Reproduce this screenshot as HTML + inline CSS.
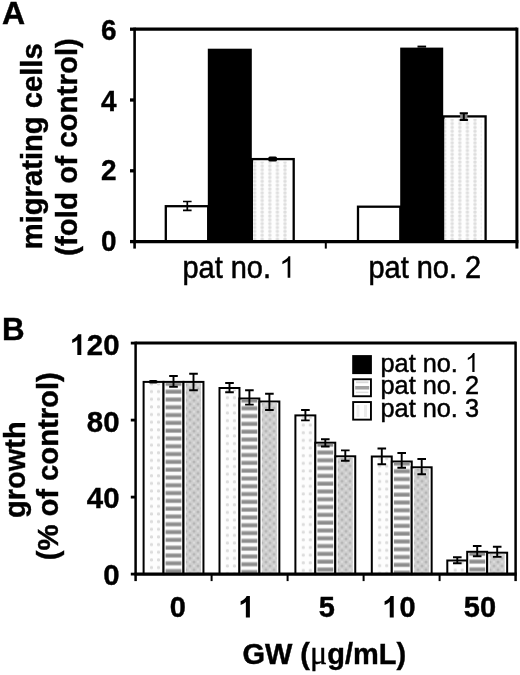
<!DOCTYPE html>
<html><head><meta charset="utf-8"><title>Figure</title>
<style>
html,body{margin:0;padding:0;background:#fff;}
body{width:520px;height:675px;overflow:hidden;font-family:"Liberation Sans",sans-serif;}
svg{display:block;filter:blur(0.4px);}
text{font-family:"Liberation Sans",sans-serif;fill:#000;stroke:#000;stroke-width:0.3px;}
.b{font-weight:bold;font-size:29px;stroke-width:0.4px;}
.r{font-size:29px;stroke-width:0.55px;}
.lg{font-size:25px;stroke-width:0.5px;}
</style></head><body>
<svg width="520" height="675" viewBox="0 0 520 675">
<defs>
<pattern id="pA" patternUnits="userSpaceOnUse" x="250.8" y="160" width="7.6" height="3.85">
<rect width="7.5" height="3.85" fill="#fefefe"/>
<rect x="2.2" y="0.4" width="3.2" height="3.1" rx="1.2" fill="#dedede"/>
</pattern>
<pattern id="p1" patternUnits="userSpaceOnUse" x="147.8" y="386.4" width="7.0" height="7.65">
<rect width="7.0" height="7.7" fill="#fdfdfd"/>
<rect x="2.0" y="4.0" width="3.0" height="3.2" rx="1.3" fill="#dddddd"/>
</pattern>
<pattern id="p1_0" patternUnits="userSpaceOnUse" x="148.00" y="378.30" width="7.0" height="7.65"><rect width="7" height="7.7" fill="#fdfdfd"/><rect x="2.0" y="4.0" width="3.0" height="3.2" rx="1.3" fill="#dcdcdc"/></pattern>
<pattern id="p2_0" patternUnits="userSpaceOnUse" x="0" y="381.30" width="20" height="7.8"><rect width="20" height="7.8" fill="#fcfcfc"/><rect y="0.3" width="20" height="4.6" fill="#b4b4b4"/><rect y="1.3" width="20" height="2.6" fill="#8c8c8c"/></pattern>
<pattern id="p1_1" patternUnits="userSpaceOnUse" x="223.90" y="384.40" width="7.0" height="7.65"><rect width="7" height="7.7" fill="#fdfdfd"/><rect x="2.0" y="4.0" width="3.0" height="3.2" rx="1.3" fill="#dcdcdc"/></pattern>
<pattern id="p2_1" patternUnits="userSpaceOnUse" x="0" y="397.90" width="20" height="7.8"><rect width="20" height="7.8" fill="#fcfcfc"/><rect y="0.3" width="20" height="4.6" fill="#b4b4b4"/><rect y="1.3" width="20" height="2.6" fill="#8c8c8c"/></pattern>
<pattern id="p1_2" patternUnits="userSpaceOnUse" x="299.80" y="411.80" width="7.0" height="7.65"><rect width="7" height="7.7" fill="#fdfdfd"/><rect x="2.0" y="4.0" width="3.0" height="3.2" rx="1.3" fill="#dcdcdc"/></pattern>
<pattern id="p2_2" patternUnits="userSpaceOnUse" x="0" y="442.10" width="20" height="7.8"><rect width="20" height="7.8" fill="#fcfcfc"/><rect y="0.3" width="20" height="4.6" fill="#b4b4b4"/><rect y="1.3" width="20" height="2.6" fill="#8c8c8c"/></pattern>
<pattern id="p1_3" patternUnits="userSpaceOnUse" x="376.20" y="452.90" width="7.0" height="7.65"><rect width="7" height="7.7" fill="#fdfdfd"/><rect x="2.0" y="4.0" width="3.0" height="3.2" rx="1.3" fill="#dcdcdc"/></pattern>
<pattern id="p2_3" patternUnits="userSpaceOnUse" x="0" y="460.90" width="20" height="7.8"><rect width="20" height="7.8" fill="#fcfcfc"/><rect y="0.3" width="20" height="4.6" fill="#b4b4b4"/><rect y="1.3" width="20" height="2.6" fill="#8c8c8c"/></pattern>
<pattern id="p1_4" patternUnits="userSpaceOnUse" x="451.70" y="556.90" width="7.0" height="7.65"><rect width="7" height="7.7" fill="#fdfdfd"/><rect x="2.0" y="4.0" width="3.0" height="3.2" rx="1.3" fill="#dcdcdc"/></pattern>
<pattern id="p2_4" patternUnits="userSpaceOnUse" x="0" y="551.20" width="20" height="7.8"><rect width="20" height="7.8" fill="#fcfcfc"/><rect y="0.3" width="20" height="4.6" fill="#b4b4b4"/><rect y="1.3" width="20" height="2.6" fill="#8c8c8c"/></pattern>
<pattern id="p3" patternUnits="userSpaceOnUse" x="184" y="383" width="8" height="7.7">
<rect width="8" height="7.7" fill="#cfcfcf"/>
<circle cx="2" cy="1.9" r="1.5" fill="#b6b6b6"/>
<circle cx="6" cy="5.75" r="1.5" fill="#b6b6b6"/>
<circle cx="6" cy="1.9" r="1.1" fill="#dcdcdc"/>
<circle cx="2" cy="5.75" r="1.1" fill="#dcdcdc"/>
</pattern>
</defs>
<rect width="520" height="675" fill="#fff"/>

<g id="panelA">
<rect x="165.8" y="206.2" width="42.4" height="35.4" fill="#fff" stroke="#000" stroke-width="2.3"/>
<rect x="252" y="159.1" width="41.7" height="82.5" fill="#fff" stroke="#000" stroke-width="2.3"/>
<rect x="253.0" y="161.6" width="36.7" height="80.0" fill="url(#pA)"/>
<rect x="358" y="206.7" width="42.3" height="34.9" fill="#fff" stroke="#000" stroke-width="2.3"/>
<rect x="443.4" y="116.4" width="42.2" height="125.2" fill="#fff" stroke="#000" stroke-width="2.3"/>
<rect x="444.4" y="118.9" width="37.2" height="122.7" fill="url(#pA)"/>
<rect x="207.8" y="48.7" width="44.0" height="192.9" fill="#000"/>
<rect x="400.2" y="47.6" width="43.0" height="194.0" fill="#000"/>
<path d="M183.0 201.5H191.6M183.0 210.3H191.6M187.3 201.5V210.3" stroke="#000" stroke-width="1.7" fill="none" stroke-linecap="butt"/>
<rect x="268.3" y="156.4" width="8.7" height="5.2" rx="1.5" fill="#000"/>
<rect x="417.5" y="45.6" width="8.6" height="2" fill="#000"/>
<rect x="460.2" y="113" width="7.2" height="7" fill="#8a8a8a"/>
<path d="M459.7 113.3H467.9M459.7 119.9H467.9M463.8 113.3V119.9" stroke="#000" stroke-width="2.0" fill="none" stroke-linecap="butt"/>
<path d="M134.6 29.2H516.9" stroke="#000" stroke-width="3.3" fill="none"/>
<path d="M133.4 241.6H518.4" stroke="#000" stroke-width="3.3" fill="none"/>
<path d="M134.6 27.599999999999998V248.6" stroke="#000" stroke-width="2.6" fill="none"/>
<path d="M516.9 27.599999999999998V248.6" stroke="#000" stroke-width="3" fill="none"/>
<path d="M130.0 241.6H134.6" stroke="#000" stroke-width="3.3" fill="none"/>
<path d="M130.0 170.8H134.6" stroke="#000" stroke-width="3.3" fill="none"/>
<path d="M130.0 100.0H134.6" stroke="#000" stroke-width="3.3" fill="none"/>
<path d="M130.0 29.2H134.6" stroke="#000" stroke-width="3.3" fill="none"/>
<path d="M325.8 241.6V248.6" stroke="#000" stroke-width="2" fill="none"/>
<text class="b" transform="translate(116.6,250.5) scale(0.92,1)" style="font-size:30.4px" text-anchor="end">0</text>
<text class="b" transform="translate(116.6,180.0) scale(0.92,1)" style="font-size:30.4px" text-anchor="end">2</text>
<text class="b" transform="translate(116.6,111.2) scale(0.92,1)" style="font-size:30.4px" text-anchor="end">4</text>
<text class="b" transform="translate(116.6,39.5) scale(0.92,1)" style="font-size:30.4px" text-anchor="end">6</text>
<text class="r" transform="translate(182.4,277.8) scale(0.935,1)" style="font-size:31px">pat no.</text>
<path transform="translate(279.1,277.7) scale(0.03,-0.0298)" d="M373 0H285V561Q253 531 202 501Q150 470 109 455V540Q183 575 238 624Q293 674 316 721H373Z" fill="#000"/>
<text class="r" transform="translate(368.4,277.8) scale(0.935,1)" style="font-size:31px">pat no. 2</text>
<text class="b" x="2.1" y="24.3" style="font-size:32px">A</text>
<text class="b" transform="translate(41.5,146.3) rotate(-90) scale(1,1.03)" text-anchor="middle" style="font-size:29.2px">migrating cells</text>
<text class="b" transform="translate(76.7,147) rotate(-90) scale(1,1.03)" text-anchor="middle" style="font-size:29.5px">(fold of control)</text>
</g>
<g id="panelB">
<rect x="143.6" y="381.9" width="19.95" height="192.2" fill="#fff" stroke="#000" stroke-width="2"/>
<rect x="148.6" y="383.4" width="12.6" height="190.7" fill="url(#p1_0)"/>
<rect x="163.5" y="381.9" width="19.95" height="192.2" fill="#fff" stroke="#000" stroke-width="2"/>
<rect x="165.6" y="383.1" width="15.8" height="191.0" fill="url(#p2_0)"/>
<rect x="183.5" y="381.9" width="19.95" height="192.2" fill="#fff" stroke="#000" stroke-width="2"/>
<rect x="185.9" y="383.1" width="15.1" height="191.0" fill="url(#p3)"/>
<rect x="219.5" y="388.0" width="19.95" height="186.1" fill="#fff" stroke="#000" stroke-width="2"/>
<rect x="224.5" y="389.5" width="12.6" height="184.6" fill="url(#p1_1)"/>
<rect x="239.4" y="398.5" width="19.95" height="175.6" fill="#fff" stroke="#000" stroke-width="2"/>
<rect x="241.5" y="399.7" width="15.8" height="174.4" fill="url(#p2_1)"/>
<rect x="259.4" y="401.5" width="19.95" height="172.6" fill="#fff" stroke="#000" stroke-width="2"/>
<rect x="261.8" y="402.7" width="15.1" height="171.4" fill="url(#p3)"/>
<rect x="295.4" y="415.4" width="19.95" height="158.7" fill="#fff" stroke="#000" stroke-width="2"/>
<rect x="300.4" y="416.9" width="12.6" height="157.2" fill="url(#p1_2)"/>
<rect x="315.3" y="442.7" width="19.95" height="131.4" fill="#fff" stroke="#000" stroke-width="2"/>
<rect x="317.4" y="443.9" width="15.8" height="130.2" fill="url(#p2_2)"/>
<rect x="335.3" y="456.3" width="19.95" height="117.8" fill="#fff" stroke="#000" stroke-width="2"/>
<rect x="337.7" y="457.5" width="15.1" height="116.6" fill="url(#p3)"/>
<rect x="371.8" y="456.5" width="19.95" height="117.6" fill="#fff" stroke="#000" stroke-width="2"/>
<rect x="376.8" y="458.0" width="12.6" height="116.1" fill="url(#p1_3)"/>
<rect x="391.8" y="461.5" width="19.95" height="112.6" fill="#fff" stroke="#000" stroke-width="2"/>
<rect x="393.9" y="462.7" width="15.8" height="111.4" fill="url(#p2_3)"/>
<rect x="411.7" y="467.3" width="19.95" height="106.8" fill="#fff" stroke="#000" stroke-width="2"/>
<rect x="414.1" y="468.5" width="15.1" height="105.6" fill="url(#p3)"/>
<rect x="447.3" y="560.5" width="19.95" height="13.6" fill="#fff" stroke="#000" stroke-width="2"/>
<rect x="452.3" y="562.0" width="12.6" height="12.1" fill="url(#p1_4)"/>
<rect x="467.2" y="551.8" width="19.95" height="22.3" fill="#fff" stroke="#000" stroke-width="2"/>
<rect x="469.4" y="553.0" width="15.8" height="21.1" fill="url(#p2_4)"/>
<rect x="487.2" y="552.7" width="19.95" height="21.4" fill="#fff" stroke="#000" stroke-width="2"/>
<rect x="489.6" y="553.9" width="15.1" height="20.2" fill="url(#p3)"/>
<rect x="148.8" y="380.0" width="8.8" height="3.6" rx="1.6" fill="#000"/>
<path d="M169.2 376.0H177.8M169.2 386.8H177.8M173.5 376.0V386.8" stroke="#000" stroke-width="1.9" fill="none" stroke-linecap="butt"/>
<path d="M189.2 373.8H197.8M189.2 390.2H197.8M193.5 373.8V390.2" stroke="#000" stroke-width="1.9" fill="none" stroke-linecap="butt"/>
<path d="M225.2 383.0H233.8M225.2 392.3H233.8M229.5 383.0V392.3" stroke="#000" stroke-width="1.9" fill="none" stroke-linecap="butt"/>
<path d="M245.1 390.3H253.7M245.1 404.6H253.7M249.4 390.3V404.6" stroke="#000" stroke-width="1.9" fill="none" stroke-linecap="butt"/>
<path d="M265.1 393.8H273.7M265.1 410.0H273.7M269.4 393.8V410.0" stroke="#000" stroke-width="1.9" fill="none" stroke-linecap="butt"/>
<path d="M301.1 410.0H309.7M301.1 420.4H309.7M305.4 410.0V420.4" stroke="#000" stroke-width="1.9" fill="none" stroke-linecap="butt"/>
<path d="M321.0 439.3H329.6M321.0 446.5H329.6M325.3 439.3V446.5" stroke="#000" stroke-width="1.9" fill="none" stroke-linecap="butt"/>
<path d="M341.0 450.4H349.6M341.0 460.8H349.6M345.3 450.4V460.8" stroke="#000" stroke-width="1.9" fill="none" stroke-linecap="butt"/>
<path d="M377.5 448.5H386.1M377.5 464.2H386.1M381.8 448.5V464.2" stroke="#000" stroke-width="1.9" fill="none" stroke-linecap="butt"/>
<path d="M397.4 453.0H406.0M397.4 467.7H406.0M401.7 453.0V467.7" stroke="#000" stroke-width="1.9" fill="none" stroke-linecap="butt"/>
<path d="M417.4 459.0H426.0M417.4 474.3H426.0M421.7 459.0V474.3" stroke="#000" stroke-width="1.9" fill="none" stroke-linecap="butt"/>
<path d="M453.0 557.2H461.6M453.0 563.3H461.6M457.3 557.2V563.3" stroke="#000" stroke-width="1.9" fill="none" stroke-linecap="butt"/>
<path d="M472.9 546.0H481.5M472.9 556.3H481.5M477.2 546.0V556.3" stroke="#000" stroke-width="1.9" fill="none" stroke-linecap="butt"/>
<path d="M492.9 546.8H501.5M492.9 556.9H501.5M497.2 546.8V556.9" stroke="#000" stroke-width="1.9" fill="none" stroke-linecap="butt"/>
<path d="M135.6 343.1H515.6" stroke="#000" stroke-width="3" fill="none"/>
<path d="M134.6 574.1H516.6" stroke="#000" stroke-width="3.3" fill="none"/>
<path d="M135.6 341.6V581.1" stroke="#000" stroke-width="2.5" fill="none"/>
<path d="M515.6 341.6V581.1" stroke="#000" stroke-width="2.5" fill="none"/>
<path d="M130.79999999999998 574.1H135.6" stroke="#000" stroke-width="2.8" fill="none"/>
<path d="M130.79999999999998 497.1H135.6" stroke="#000" stroke-width="2.8" fill="none"/>
<path d="M130.79999999999998 420.1H135.6" stroke="#000" stroke-width="2.8" fill="none"/>
<path d="M130.79999999999998 343.1H135.6" stroke="#000" stroke-width="2.8" fill="none"/>
<path d="M211.6 574.1V581.1" stroke="#000" stroke-width="2" fill="none"/>
<path d="M287.6 574.1V581.1" stroke="#000" stroke-width="2" fill="none"/>
<path d="M363.6 574.1V581.1" stroke="#000" stroke-width="2" fill="none"/>
<path d="M439.6 574.1V581.1" stroke="#000" stroke-width="2" fill="none"/>
<path transform="translate(69.9,354.9) scale(0.029,-0.0288)" d="M393 0H256V518Q181 448 79 414V539Q133 557 196 606Q259 655 282 720H393Z" fill="#000"/>
<text class="b" transform="translate(119.5,585.2) scale(1,1.0)" style="font-size:29.4px" text-anchor="end">0</text>
<text class="b" transform="translate(119.5,508.4) scale(1,1.0)" style="font-size:29.4px" text-anchor="end">40</text>
<text class="b" transform="translate(119.5,431.9) scale(1,1.0)" style="font-size:29.4px" text-anchor="end">80</text>
<text class="b" transform="translate(119.5,354.9) scale(1,1.0)" style="font-size:29.4px" text-anchor="end">20</text>
<text class="b" transform="translate(177.8,617.4) scale(1,1.04)" text-anchor="middle">0</text>
<text class="b" transform="translate(326.7,617.4) scale(1,1.04)" text-anchor="middle">5</text>
<text class="b" transform="translate(479.9,617.4) scale(1,1.04)" text-anchor="middle">50</text>
<path transform="translate(238.3,617.4) scale(0.0295,-0.0298)" d="M393 0H256V518Q181 448 79 414V539Q133 557 196 606Q259 655 282 720H393Z" fill="#000"/>
<path transform="translate(382.3,617.4) scale(0.0291,-0.0298)" d="M393 0H256V518Q181 448 79 414V539Q133 557 196 606Q259 655 282 720H393Z" fill="#000"/>
<text class="b" transform="translate(415.6,617.4) scale(1,1.04)" text-anchor="end">0</text>
<text class="b" transform="translate(242.4,664.4) scale(1,1.03)">GW (<tspan style="font-family:'Liberation Serif',serif;font-weight:normal;font-size:32px">μ</tspan>g/mL)</text>
<text class="b" transform="translate(2.0,339.5) scale(1.0,1)" style="font-size:31.3px">B</text>
<text class="b" transform="translate(25.2,469.6) rotate(-90) scale(1,1.03)" text-anchor="middle">growth</text>
<text class="b" transform="translate(58.4,466.3) rotate(-90) scale(1,1.03)" text-anchor="middle" style="font-size:29.2px">(% of control)</text>
<rect x="352.2" y="355.1" width="19.7" height="19" fill="#000"/>
<rect x="353.15" y="379.25" width="17.8" height="17" fill="#fff" stroke="#000" stroke-width="1.9"/>
<rect x="356" y="381.4" width="12.4" height="1.8" fill="#d9d9d9"/>
<rect x="355.2" y="386.0" width="14" height="3.5" fill="#a2a2a2"/>
<rect x="356" y="391.6" width="12.4" height="1.5" fill="#dedede"/>
<rect x="353.15" y="402.05" width="17.8" height="17.6" fill="#fff" stroke="#000" stroke-width="1.9"/>
<rect x="356.5" y="405" width="3" height="12" fill="#ececec"/>
<rect x="364" y="405" width="3" height="12" fill="#ececec"/>
<text class="lg" transform="translate(380.5,372.0) scale(0.955,1)" style="font-size:26.5px">pat no.</text>
<text class="lg" transform="translate(380.5,394.4) scale(0.955,1)" style="font-size:26.5px">pat no. 2</text>
<text class="lg" transform="translate(380.5,416.6) scale(0.955,1)" style="font-size:26.5px">pat no. 3</text>
<path transform="translate(465.0,372.0) scale(0.0256,-0.0262)" d="M373 0H285V561Q253 531 202 501Q150 470 109 455V540Q183 575 238 624Q293 674 316 721H373Z" fill="#000"/>
</g>
</svg></body></html>
